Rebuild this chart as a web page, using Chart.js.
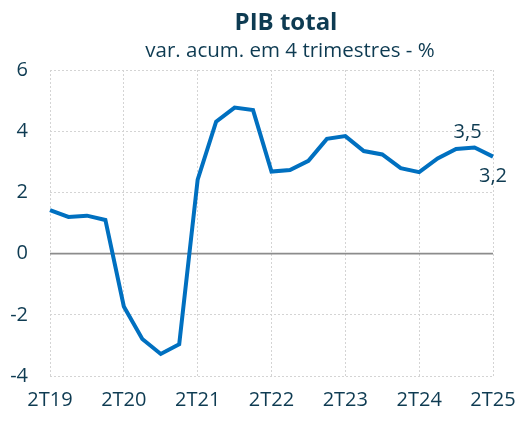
<!DOCTYPE html>
<html lang="pt">
<head>
<meta charset="UTF-8">
<title>PIB total</title>
<style>
  body { margin: 0; background: #fff; }
  #wrap { width: 516px; height: 421px; }
</style>
</head>
<body>
<div id="wrap"><canvas id="myChart"></canvas></div>
<script src="https://cdn.jsdelivr.net/npm/chart.js"></script>
<script>
// trimestres 2T19 .. 2T25
const quarters = ['2T19','3T19','4T19','1T20','2T20','3T20','4T20','1T21','2T21','3T21','4T21','1T22',
                  '2T22','3T22','4T22','1T23','2T23','3T23','4T23','1T24','2T24','3T24','4T24','1T25','2T25'];
// PIB total, var. acumulada em 4 trimestres (%)
const pib = [1.42, 1.20, 1.24, 1.10, -1.73, -2.79, -3.28, -2.96, 2.42, 4.31, 4.77, 4.69,
             2.68, 2.73, 3.03, 3.75, 3.84, 3.35, 3.24, 2.79, 2.66, 3.11, 3.42, 3.47, 3.17];
const yTicks = [-4, -2, 0, 2, 4, 6];
// rótulos mostrados no gráfico
const pointLabels = { 23: '3,5', 24: '3,2' };

const txtColor = '#0e3b52';
const fontFam = '"Open Sans", sans-serif';

const titlePlugin = {
  id: 'titles',
  afterDraw(chart) {
    const c = chart.ctx;
    c.save();
    c.fillStyle = txtColor;
    c.textAlign = 'center';
    c.textBaseline = 'alphabetic';
    c.font = 'bold 24px ' + fontFam;
    c.fillText('PIB total', 286, 30);
    c.font = '20.5px ' + fontFam;
    c.fillText('var. acum. em 4 trimestres - %', 290, 57);
    c.restore();
  }
};

const zeroLine = {
  id: 'zeroLine',
  beforeDatasetsDraw(chart) {
    const y = chart.scales.y.getPixelForValue(0);
    const a = chart.chartArea;
    const c = chart.ctx;
    c.save();
    c.strokeStyle = '#8c8c8c';
    c.lineWidth = 1.6;
    c.beginPath();
    c.moveTo(a.left, y);
    c.lineTo(a.right, y);
    c.stroke();
    c.restore();
  }
};

const labelsPlugin = {
  id: 'ptLabels',
  afterDatasetsDraw(chart) {
    const meta = chart.getDatasetMeta(0);
    const c = chart.ctx;
    c.save();
    c.fillStyle = txtColor;
    c.font = '20px ' + fontFam;
    c.textAlign = 'center';
    c.textBaseline = 'middle';
    for (const i in pointLabels) {
      const p = meta.data[i];
      if (i == 23) c.fillText(pointLabels[i], p.x - 7, p.y - 15);
      else c.fillText(pointLabels[i], p.x, p.y + 20);
    }
    c.restore();
  }
};

const ctx = document.getElementById('myChart');
new Chart(ctx, {
  type: 'line',
  data: {
    labels: quarters,
    datasets: [{
      data: pib,
      borderColor: '#0070c0',
      borderWidth: 4,
      pointRadius: 0,
      tension: 0,
      fill: false
    }]
  },
  options: {
    responsive: true,
    maintainAspectRatio: false,
    animation: false,
    layout: { padding: { top: 70, right: 23, left: 0, bottom: 0 } },
    plugins: { legend: { display: false }, tooltip: { enabled: false } },
    scales: {
      x: {
        offset: false,
        grid: {
          drawTicks: false,
          color: (c) => (c.index % 4 === 0 ? '#d4d4d4' : 'rgba(0,0,0,0)'),
          lineWidth: 1
        },
        border: { display: false, dash: [2, 2] },
        ticks: {
          autoSkip: false,
          maxRotation: 0,
          color: txtColor,
          font: { family: fontFam, size: 20 },
          padding: 12,
          callback: function (v, i) { return i % 4 === 0 ? quarters[i] : ''; }
        },
        afterFit: (s) => { s.height = 45; s.paddingLeft = 0; s.paddingRight = 0; }
      },
      y: {
        min: -4,
        max: 6,
        afterBuildTicks: (s) => { s.ticks = yTicks.map(v => ({ value: v })); },
        grid: { drawTicks: false, color: '#d4d4d4', lineWidth: 1 },
        border: { display: false, dash: [2, 2] },
        ticks: {
          color: txtColor,
          font: { family: fontFam, size: 20 },
          padding: 22
        },
        afterFit: (s) => { s.width = 50; }
      }
    }
  },
  plugins: [titlePlugin, zeroLine, labelsPlugin]
});
</script>
</body>
</html>
